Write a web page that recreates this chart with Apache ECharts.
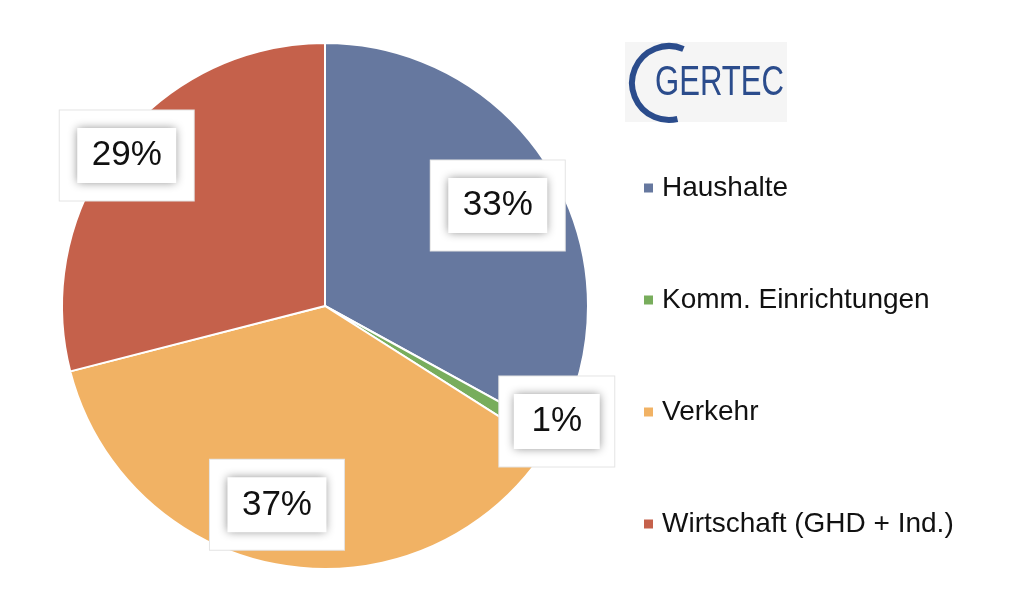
<!DOCTYPE html>
<html>
<head>
<meta charset="utf-8">
<script src="https://cdn.jsdelivr.net/npm/echarts@6/dist/echarts.min.js"></script>
<style>
  html, body { margin: 0; padding: 0; background: #fff; }
  #chart { width: 1024px; height: 602px; }
</style>
</head>
<body>
<div id="chart"></div>
<script>
// Daten
const categories = ['Haushalte', 'Komm. Einrichtungen', 'Verkehr', 'Wirtschaft (GHD + Ind.)'];
const shares = [33, 1, 37, 29];
const colors = ['#66789f', '#78ad5c', '#f1b264', '#c5614b'];
// Verschiebung der Beschriftungen (nur Darstellung)
const labelShift = [[57, -32], [116, 47], [-27, 66], [-92, -68]];

const chart = echarts.init(document.getElementById('chart'));

const pieData = categories.map((name, i) => ({
    name: name,
    value: shares[i],
    itemStyle: { color: colors[i] }
}));

const shiftLabel = function (params) {
    const s = labelShift[params.dataIndex];
    return { dx: s[0], dy: s[1] };
};

const pieBase = {
    type: 'pie',
    center: [325, 306],
    radius: 263,
    startAngle: 90,
    labelLine: { show: false },
    labelLayout: shiftLabel
};

// innerer Kasten mit Schatten
const innerBox = {
    align: 'center',
    fontFamily: 'Liberation Sans, Arial, sans-serif',
    fontSize: 35,
    height: 55,
    lineHeight: 55,
    color: '#111',
    backgroundColor: '#fff',
    shadowBlur: 9,
    shadowColor: 'rgba(0,0,0,0.45)'
};

// äußerer weißer Kasten
const outerBox = {
    height: 90,
    backgroundColor: '#fff',
    borderColor: '#e4e4e4',
    borderWidth: 1
};

const options = {
    animation: false,
    legend: {
        orient: 'vertical',
        left: 637,
        top: 168,
        icon: 'rect',
        itemWidth: 11,
        itemHeight: 11,
        itemGap: 82,
        data: categories,
        textStyle: {
            fontFamily: 'Liberation Sans, Arial, sans-serif',
            fontSize: 28,
            lineHeight: 30,
            padding: [0, 0, 0, 3],
            color: '#111'
        }
    },
    graphic: [
        // GERTEC Logo
        {
            type: 'rect',
            left: 625, top: 42,
            shape: { width: 162, height: 80 },
            style: { fill: '#f5f5f5' }
        },
        {
            type: 'arc',
            shape: { cx: 669, cy: 83, r: 37, startAngle: -1.17, endAngle: 1.34, clockwise: false },
            style: { stroke: '#2b4c8c', lineWidth: 6, fill: null }
        },
        {
            type: 'text',
            x: 655, y: 62,
            scaleX: 0.74,
            style: {
                text: 'GERTEC',
                fontFamily: 'Liberation Sans, Arial, sans-serif',
                fontSize: 42,
                fill: '#2b4c8c'
            }
        }
    ],
    series: [
        // Kreis mit äußerem weißen Kasten
        Object.assign({}, pieBase, {
            name: 'Anteile',
            data: pieData,
            itemStyle: { borderColor: '#fff', borderWidth: 2 },
            label: {
                show: true,
                position: 'inside',
                formatter: function (p) {
                    return p.value < 10 ? '{n| }' : '{w| }';
                },
                rich: {
                    w: Object.assign({ width: 134 }, outerBox),
                    n: Object.assign({ width: 115 }, outerBox)
                }
            }
        }),
        // unsichtbarer Kreis nur für den inneren Kasten mit Wert
        Object.assign({}, pieBase, {
            name: 'Werte',
            z: 3,
            silent: true,
            legendHoverLink: false,
            data: categories.map((name, i) => ({ name: name, value: shares[i] })),
            itemStyle: { color: 'rgba(0,0,0,0)', borderWidth: 0 },
            label: {
                show: true,
                position: 'inside',
                formatter: function (p) {
                    const key = p.value < 10 ? 'n' : 'w';
                    return '{' + key + '|' + p.value + '%}';
                },
                rich: {
                    w: Object.assign({ width: 99 }, innerBox),
                    n: Object.assign({ width: 86 }, innerBox)
                }
            }
        })
    ]
};

chart.setOption(options);
</script>
</body>
</html>
